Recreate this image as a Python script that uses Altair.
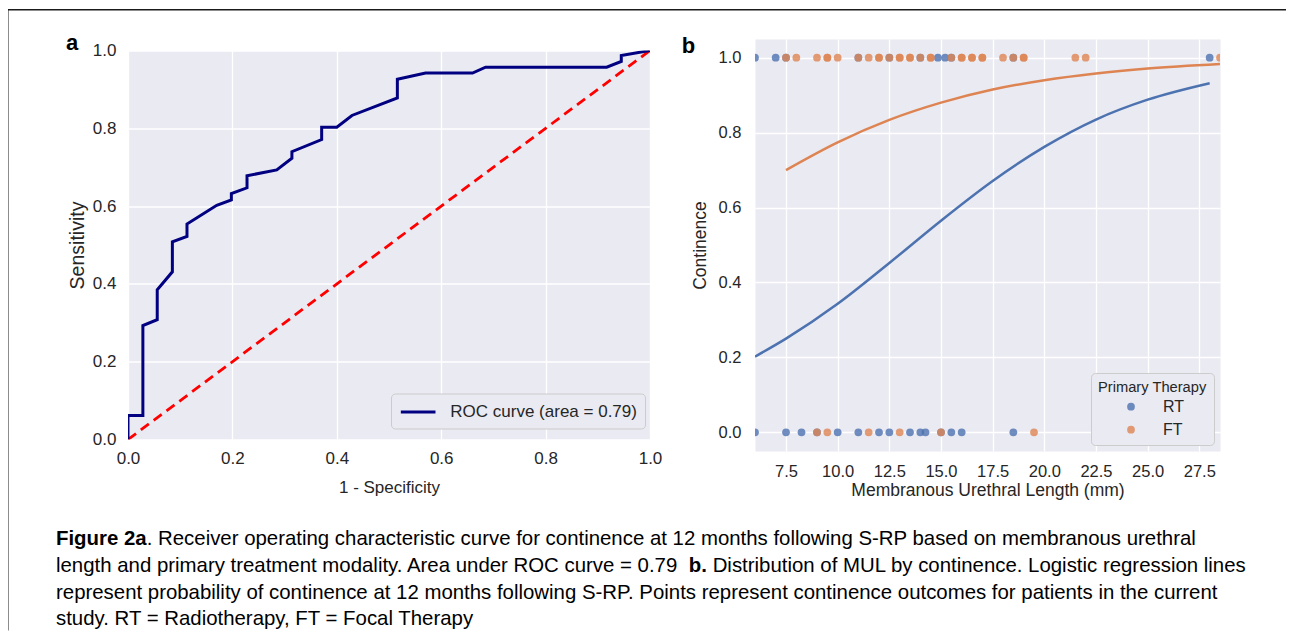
import altair as alt
import pandas as pd

FONT = "Liberation Sans"
TXT = "#262626"

# ---------------- Panel a: ROC curve ----------------
roc_fpr = [0.0, 0.0, 0.0285, 0.0285, 0.056, 0.056, 0.085, 0.085, 0.113, 0.113,
           0.170, 0.198, 0.198, 0.228, 0.228, 0.285, 0.314, 0.314, 0.371, 0.371,
           0.400, 0.429, 0.516, 0.516, 0.570, 0.660, 0.685, 0.917, 0.945, 0.945, 1.0]
roc_tpr = [0.0, 0.062, 0.062, 0.293, 0.308, 0.385, 0.431, 0.508, 0.522, 0.554,
           0.602, 0.616, 0.632, 0.647, 0.678, 0.693, 0.723, 0.740, 0.771, 0.803,
           0.803, 0.833, 0.878, 0.926, 0.942, 0.942, 0.957, 0.957, 0.972, 0.987, 1.0]
roc_label = "ROC curve (area = 0.79)"
diag_fpr = [0.0, 1.0]
diag_tpr = [0.0, 1.0]
a_ticks = [0.0, 0.2, 0.4, 0.6, 0.8, 1.0]

# ---------------- Panel b: MUL vs continence ----------------
therapies = ["RT", "FT"]
therapy_colors = ["#4c72b0", "#dd8452"]
rt_continent = [6.0, 7.0, 7.5, 11.0, 12.5, 14.0, 14.85, 15.2, 15.5, 18.5, 28.0]
rt_incontinent = [6.0, 7.5, 8.25, 9.0, 10.0, 11.0, 12.0, 12.5, 13.5, 14.0, 14.25,
                  15.0, 15.5, 16.0, 18.5]
ft_continent = [7.5, 8.0, 9.0, 9.5, 9.5, 10.0, 11.0, 11.5, 12.0, 12.0, 12.5, 13.0,
                13.0, 13.5, 13.5, 14.0, 14.5, 14.5, 15.5, 16.0, 16.0, 16.5, 16.5,
                17.0, 17.0, 18.0, 18.5, 19.0, 19.0, 21.5, 22.0, 28.5]
ft_incontinent = [9.0, 9.5, 11.5, 13.0, 15.0, 19.5]

rt_curve_mul = [6.0, 7.5, 10.0, 12.5, 15.0, 17.5, 20.0, 22.5, 25.0, 28.0]
rt_curve_p = [0.202, 0.250, 0.343, 0.452, 0.565, 0.671, 0.762, 0.835, 0.888, 0.932]
ft_curve_mul = [7.5, 10.0, 12.5, 15.0, 17.5, 20.0, 22.5, 25.0, 28.5]
ft_curve_p = [0.700, 0.774, 0.834, 0.880, 0.915, 0.940, 0.958, 0.971, 0.983]
b_xticks = [7.5, 10.0, 12.5, 15.0, 17.5, 20.0, 22.5, 25.0, 27.5]
b_yticks = [0.0, 0.2, 0.4, 0.6, 0.8, 1.0]

# ---------------- Caption ----------------
cap_l1_bold = "Figure 2a"
cap_l1_rest = ". Receiver operating characteristic curve for continence at 12 months following S-RP based on membranous urethral"
cap_l2_a = "length and primary treatment modality. Area under ROC curve = 0.79"
cap_l2_bold = "b."
cap_l2_b = "Distribution of MUL by continence. Logistic regression lines"
cap_l3 = "represent probability of continence at 12 months following S-RP. Points represent continence outcomes for patients in the current"
cap_l4 = "study. RT = Radiotherapy, FT = Focal Therapy"

# ---------------- layout constants ----------------
A_W, A_H = 522, 389
B_W, B_H = 465, 412
CAP_FS = 20.4


def one():
    return pd.DataFrame({"k": [0]})


def txt(s, x, y, size, bold=False, align="left", color="black"):
    return alt.Chart(one()).mark_text(
        text=s, font=FONT, fontSize=size, fontWeight="bold" if bold else "normal",
        align=align, baseline="alphabetic", color=color
    ).encode(x=alt.value(x), y=alt.value(y))


def bar(x, x2, y, y2):
    return alt.Chart(one()).mark_rect(color="#1a1a1a", strokeWidth=0).encode(
        x=alt.value(x), x2=alt.value(x2), y=alt.value(y), y2=alt.value(y2))


# ---------- Panel a ----------
roc_df = pd.DataFrame({"fpr": roc_fpr, "tpr": roc_tpr,
                       "series": [roc_label] * len(roc_fpr),
                       "idx": list(range(len(roc_fpr)))})
diag_df = pd.DataFrame({"fpr": diag_fpr, "tpr": diag_tpr})

xa = alt.X("fpr:Q", scale=alt.Scale(domain=[0, 1], nice=False, zero=False),
           axis=alt.Axis(values=a_ticks, format=".1f", title="1 - Specificity",
                         labelFontSize=17, titleFontSize=17, labelPadding=11,
                         labelFlush=False, labelOverlap=False,
                         titleY=52.5, titleBaseline="alphabetic"))
ya = alt.Y("tpr:Q", scale=alt.Scale(domain=[0, 1], nice=False, zero=False),
           axis=alt.Axis(values=a_ticks, format=".1f", title="Sensitivity",
                         labelFontSize=17, titleFontSize=19.5, labelPadding=12,
                         labelFlush=False, labelOverlap=False,
                         titleX=-45, titleBaseline="alphabetic"))

SYM = 300  # legend symbol size: a horizontal stroke of length 2*sqrt(SYM)
roc_line = alt.Chart(roc_df).mark_line(strokeWidth=3, clip=True).encode(
    x=xa, y=ya, order=alt.Order("idx:Q"),
    color=alt.Color("series:N", scale=alt.Scale(domain=[roc_label], range=["#000080"]),
                    legend=alt.Legend(title=None, orient="none", legendX=263, legendY=343,
                                      fillColor="#EAEAF2", strokeColor="#cccccc",
                                      cornerRadius=4, padding=8, labelLimit=0,
                                      labelFont=FONT, labelFontSize=17, labelColor=TXT,
                                      symbolType="M-2,0H2", symbolStrokeWidth=3,
                                      symbolSize=SYM, symbolOffset=SYM ** 0.5 / 2,
                                      labelOffset=13 + SYM ** 0.5 / 2)))
diag_line = alt.Chart(diag_df).mark_line(color="#ff0000", strokeWidth=2.8,
                                          strokeDash=[10, 6], clip=True).encode(
    x="fpr:Q", y="tpr:Q")

cap_x = -72
cap_y = [494.5, 521.5, 548.5, 574.5]
caption = [
    txt(cap_l1_bold, cap_x, cap_y[0], CAP_FS, bold=True),
    txt(cap_l1_rest, cap_x + 4.446 * CAP_FS, cap_y[0], CAP_FS),
    txt(cap_l2_a, cap_x, cap_y[1], CAP_FS),
    txt(cap_l2_bold, cap_x + 30.874 * CAP_FS + 3, cap_y[1], CAP_FS, bold=True),
    txt(cap_l2_b, cap_x + (30.874 + 0.889 + 0.278) * CAP_FS + 3, cap_y[1], CAP_FS),
    txt(cap_l3, cap_x, cap_y[2], CAP_FS),
    txt(cap_l4, cap_x, cap_y[3], CAP_FS),
]

frame_top = bar(-121, 1158, -41.5, -40)
frame_left = bar(-121, -119.5, -41.5, 580)

label_a = txt("a", -56, -1, 22, bold=True, align="center")

panel_a = alt.layer(diag_line, roc_line, label_a, frame_top, frame_left, *caption).properties(
    width=A_W, height=A_H)

# ---------- Panel b ----------
rows = []
for v in rt_continent:
    rows.append(("RT", v, 1.0))
for v in rt_incontinent:
    rows.append(("RT", v, 0.0))
for v in ft_continent:
    rows.append(("FT", v, 1.0))
for v in ft_incontinent:
    rows.append(("FT", v, 0.0))
pts_df = pd.DataFrame(rows, columns=["therapy", "mul", "cont"])

rt_curve_df = pd.DataFrame({"mul": rt_curve_mul, "cont": rt_curve_p})
ft_curve_df = pd.DataFrame({"mul": ft_curve_mul, "cont": ft_curve_p})

xb = alt.X("mul:Q", scale=alt.Scale(domain=[6.0, 28.5], nice=False, zero=False),
           axis=alt.Axis(values=b_xticks, format=".1f",
                         title="Membranous Urethral Length (mm)",
                         labelFontSize=16.5, titleFontSize=17.5, labelPadding=12,
                         labelFlush=False,
                         titleY=44, titleBaseline="alphabetic"))
yb = alt.Y("cont:Q", scale=alt.Scale(domain=[-0.05, 1.05], nice=False, zero=False),
           axis=alt.Axis(values=b_yticks, format=".1f", title="Continence",
                         labelFontSize=16.5, titleFontSize=17.5, labelPadding=14,
                         labelFlush=False,
                         titleX=-50, titleBaseline="alphabetic"))

points = alt.Chart(pts_df).mark_circle(size=60, opacity=0.8, clip=True).encode(
    x=xb, y=yb,
    color=alt.Color("therapy:N",
                    scale=alt.Scale(domain=therapies, range=therapy_colors),
                    sort=therapies,
                    legend=alt.Legend(title="Primary Therapy", orient="bottom-right",
                                      offset=6, fillColor="#EAEAF2",
                                      strokeColor="#cccccc", cornerRadius=4, padding=7,
                                      titleFont=FONT, titleFontSize=14.7,
                                      titleFontWeight="normal", titleColor=TXT,
                                      titlePadding=4,
                                      labelFont=FONT, labelFontSize=16, labelColor=TXT,
                                      symbolType="circle", symbolSize=60,
                                      symbolOffset=25, labelOffset=24, rowPadding=7)))
curve_rt = alt.Chart(rt_curve_df).mark_line(
    strokeWidth=2.5, clip=True, interpolate="monotone", color=therapy_colors[0]
).encode(x="mul:Q", y="cont:Q")
curve_ft = alt.Chart(ft_curve_df).mark_line(
    strokeWidth=2.5, clip=True, interpolate="monotone", color=therapy_colors[1]
).encode(x="mul:Q", y="cont:Q")

label_b = txt("b", -66.5, 14, 22, bold=True, align="center")

panel_b = alt.layer(curve_rt, curve_ft, points, label_b).properties(width=B_W, height=B_H)

chart = alt.hconcat(panel_a, panel_b, spacing=105, bounds="flush", center=True).resolve_scale(
    color="independent"
).resolve_legend(
    color="independent"
).properties(
    padding={"left": -2, "top": 0, "right": 0, "bottom": 0}
).configure_view(
    fill="#EAEAF2", stroke="transparent"
).configure_axis(
    labelFont=FONT, titleFont=FONT, labelColor=TXT, titleColor=TXT,
    titleFontWeight="normal", domain=False, ticks=False, tickSize=0,
    gridColor="white", gridWidth=1.3, gridOpacity=1
)

chart.save("out.html", embed_options={"renderer": "svg", "actions": False})
